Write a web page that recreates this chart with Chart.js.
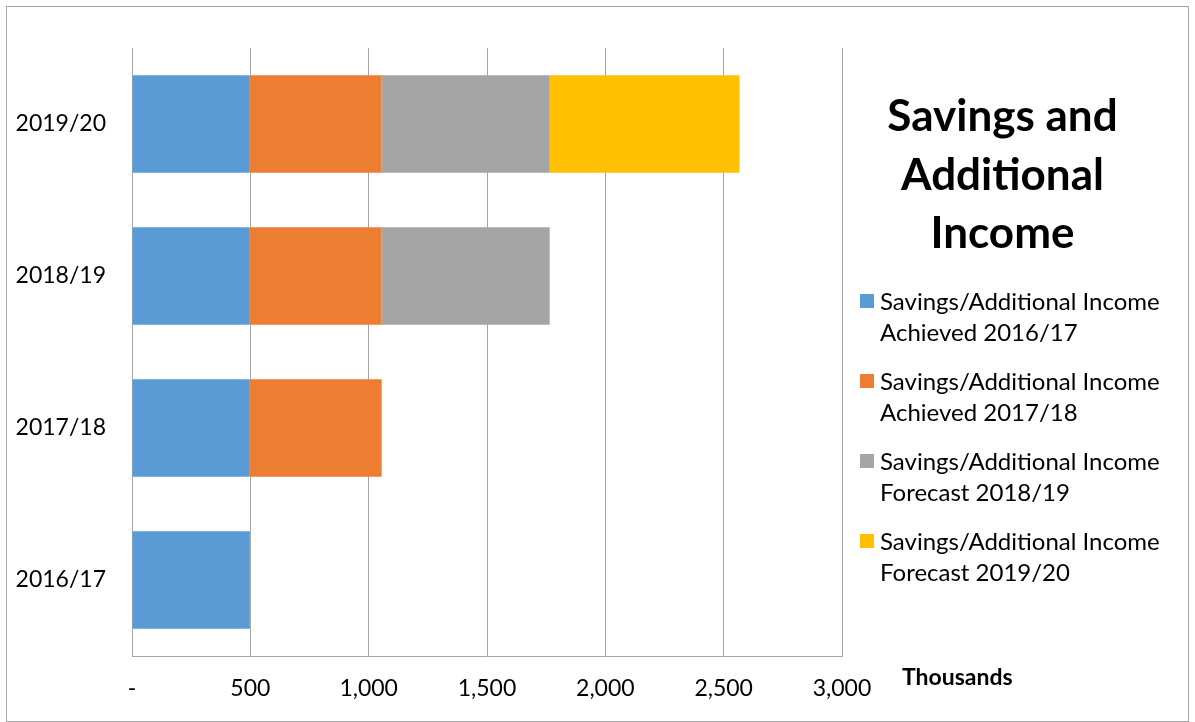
<!DOCTYPE html>
<html><head><meta charset="utf-8">
<script src="https://cdn.jsdelivr.net/npm/chart.js@4/dist/chart.umd.min.js"></script>
<style>
html,body{margin:0;padding:0;background:#fff;}
#wrap{position:relative;width:1195px;height:722px;overflow:hidden;font-family:Lato,"Open Sans",sans-serif;}
#frame{position:absolute;left:6px;top:6px;width:1183px;height:716px;border:1px solid #a6a6a6;box-sizing:border-box;pointer-events:none;}
canvas{position:absolute;left:0;top:0;}
#title{position:absolute;left:850px;width:305px;top:85px;text-align:center;font-weight:bold;font-size:44px;line-height:58.5px;color:#000;}
#legend{position:absolute;left:860px;top:285px;font-size:24px;line-height:31px;color:#000;white-space:nowrap;}
.item{position:relative;padding-left:20px;margin-bottom:18px;}
.sw{position:absolute;left:0;top:9px;width:14px;height:14px;}
#unit{position:absolute;left:902px;top:662px;font-weight:bold;font-size:23px;}
</style></head>
<body><div id="wrap"><canvas id="c" width="1195" height="722"></canvas><div id="frame"></div>
<div id="title">Savings and<br>Additional<br>Income</div>
<div id="legend"></div>
<div id="unit">Thousands</div>
</div>
<script>
const categories = ['2019/20','2018/19','2017/18','2016/17'];
const seriesNames = ['Savings/Additional Income Achieved 2016/17','Savings/Additional Income Achieved 2017/18','Savings/Additional Income Forecast 2018/19','Savings/Additional Income Forecast 2019/20'];
const legendLines = [['Savings/Additional Income','Achieved 2016/17'],['Savings/Additional Income','Achieved 2017/18'],['Savings/Additional Income','Forecast 2018/19'],['Savings/Additional Income','Forecast 2019/20']];
const achieved1617 = [498, 498, 498, 498];
const achieved1718 = [557, 557, 557, null];
const forecast1819 = [710, 710, null, null];
const forecast1920 = [802, null, null, null];
const colors = ['#5b9bd5','#ed7d31','#a5a5a5','#ffc000'];
const xTicks = [0,500,1000,1500,2000,2500,3000];

const leg = document.getElementById('legend');
legendLines.forEach((l,i)=>{
  const d=document.createElement('div');d.className='item';
  d.innerHTML='<span class="sw" style="background:'+colors[i]+'"></span>'+l[0]+'<br>'+l[1];
  leg.appendChild(d);
});

const series=[achieved1617,achieved1718,forecast1819,forecast1920];
new Chart(document.getElementById('c'),{
  type:'bar',
  data:{labels:categories,datasets:series.map((s,i)=>({label:seriesNames[i],data:s,backgroundColor:colors[i],borderWidth:0,categoryPercentage:1,barPercentage:0.64}))},
  options:{
    indexAxis:'y',responsive:false,animation:false,
    layout:{padding:{left:0,right:353,top:48,bottom:0}},
    plugins:{legend:{display:false},title:{display:false},tooltip:{enabled:false}},
    scales:{
      x:{stacked:true,min:0,max:3000,
        afterBuildTicks:(s)=>{s.ticks=xTicks.map(v=>({value:v}));},
        afterFit:(s)=>{s.height=66;},
        grid:{color:'#a6a6a6',lineWidth:1,drawTicks:false},
        border:{color:'#a6a6a6',width:1},
        ticks:{padding:19,color:'#000',font:{family:'Lato',size:23},
          callback:(v)=>v===0?'-':v.toLocaleString('en-US')}
      },
      y:{stacked:true,
        afterFit:(s)=>{s.width=132;},
        grid:{display:false,drawTicks:false},
        border:{color:'#a6a6a6',width:1},
        ticks:{padding:26,color:'#000',font:{family:'Lato',size:23}}
      }
    }
  }
});
</script></body></html>
